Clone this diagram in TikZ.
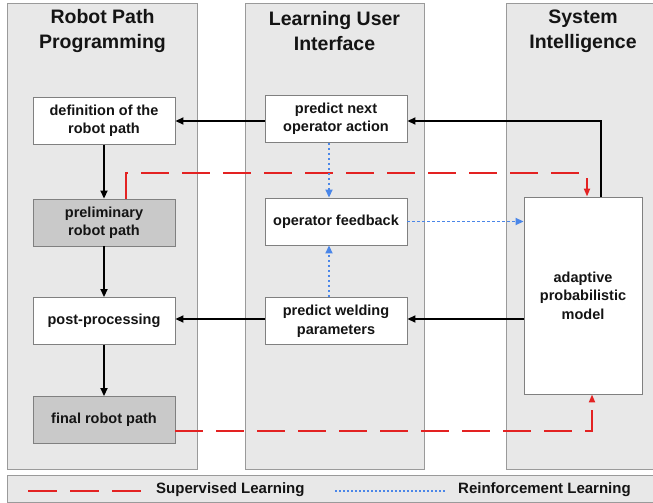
\documentclass[tikz,border=0pt]{standalone}
\usepackage{fontspec}
\setmainfont{Liberation Sans}
\usetikzlibrary{arrows.meta,calc}
\definecolor{colfill}{HTML}{E8E8E8}
\definecolor{colline}{HTML}{9A9A9A}
\definecolor{boxline}{HTML}{808080}
\definecolor{darkfill}{HTML}{C9C9C9}
\definecolor{supred}{HTML}{E32222}
\definecolor{reinblue}{HTML}{4A86E8}
\definecolor{txt}{HTML}{141414}
\tikzset{
  column/.style={draw=colline, fill=colfill, line width=0.9pt},
  coltitle/.style={text=txt, font=\bfseries\fontsize{19.5}{25}\selectfont, align=center},
  pbox/.style={draw=boxline, fill=white, line width=0.9pt, minimum width=142pt, minimum height=47pt,
    align=center, text=txt, font=\bfseries\fontsize{14.5}{18.5}\selectfont, inner sep=2pt},
  gbox/.style={pbox, fill=darkfill},
  blk/.style={draw=black, line width=1.7pt, -{Triangle[length=8pt,width=7pt]}},
  sup/.style={draw=supred, line width=1.9pt, dash pattern=on 28pt off 13pt, -{Triangle[length=8pt,width=6pt]}},
  rein/.style={draw=reinblue, line width=1.8pt, dash pattern=on 2.5pt off 2.5pt, -{Triangle[length=8pt,width=7pt]}},
  legtext/.style={text=txt, font=\bfseries\fontsize{15}{18}\selectfont, anchor=west, inner sep=0pt}
}
\begin{document}
\begin{tikzpicture}[x=1pt,y=-1pt]
\useasboundingbox (0,0) rectangle (653,503);
\clip (0,0) rectangle (653,503);
\fill[white] (0,0) rectangle (653,503);
% columns
\draw[column] (7.5,3) rectangle (197.5,469.5);
\draw[column] (245,3) rectangle (424,469.5);
\draw[column] (506,3) rectangle (665,469.5);
\node[coltitle] (t1) at (102.5,31) {Robot Path\\Programming};
\node[coltitle] (t2) at (334.5,31) {Learning User\\Interface};
\node[coltitle] (t3) at (583,31) {System\\Intelligence};
% boxes
\node[pbox] (def) at (104,121) {definition of the\\robot path};
\node[gbox] (pre) at (104,222.5) {preliminary\\robot path};
\node[pbox] (post) at (104,321) {post-processing};
\node[gbox] (fin) at (104,420) {final robot path};
\node[pbox] (pna) at (336,119) {predict next\\operator action};
\node[pbox] (ofb) at (336,221.5) {operator feedback};
\node[pbox] (pwp) at (336,321) {predict welding\\parameters};
\node[pbox, minimum width=118pt, minimum height=197pt] (apm) at (583,295.5) {adaptive\\probabilistic\\model};
% black arrows
\draw[blk] (def) -- (pre);
\draw[blk] (pre) -- (post);
\draw[blk] (post) -- (fin);
\draw[blk] (pna.west |- 0,121) -- (def.east |- 0,121);
\draw[blk] (apm.north -| 601,0) -- (601,121) -- (pna.east |- 0,121);
\draw[blk] (apm.west |- 0,319) -- (pwp.east |- 0,319);
\draw[blk] (pwp.west |- 0,319) -- (post.east |- 0,319);
% red supervised
\draw[sup] (pre.north -| 126,0) -- (126,173) -- (587,173) -- (apm.north -| 587,0);
\draw[sup] (fin.east |- 0,431) -- (592,431) -- (apm.south -| 592,0);
% blue reinforcement
\draw[rein] (pna.south -| 329,0) -- (ofb.north -| 329,0);
\draw[rein] (pwp.north -| 329,0) -- (ofb.south -| 329,0);
\draw[rein] (ofb.east) -- (apm.west |- ofb.east);
% legend
\draw[column] (7.5,475.5) rectangle (665,502);
\coordinate (l1a) at (28,491);
\coordinate (l1b) at (142,491);
\coordinate (l2a) at (335,491);
\coordinate (l2b) at (446,491);
\draw[supred, line width=1.9pt, dash pattern=on 29pt off 13pt] (l1a) -- (l1b);
\draw[reinblue, line width=1.3pt, dash pattern=on 2pt off 2pt] (l2a) -- (l2b);
\node[legtext] (lt1) at (156,490) {Supervised Learning};
\node[legtext] (lt2) at (458,490) {Reinforcement Learning};
\end{tikzpicture}
\end{document}
